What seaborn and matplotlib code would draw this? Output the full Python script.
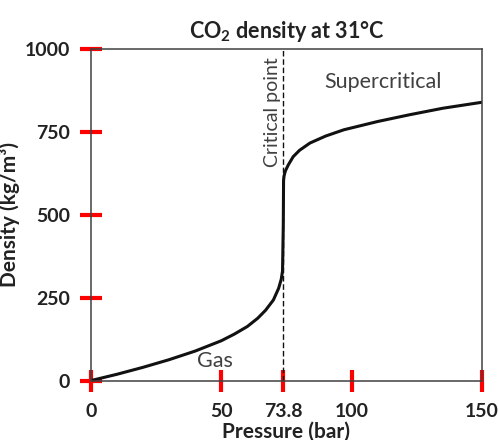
import numpy as np
import pandas as pd
import seaborn as sns
import matplotlib
matplotlib.use("Agg")
import matplotlib.pyplot as plt

# CO2 density along the 31 C isotherm
pressure = [0, 10, 20, 30, 40, 50, 55, 60, 64, 67, 70, 72, 73, 73.5, 73.8,
            73.8, 73.9, 74.1, 74.6, 75.7, 77.6, 80, 84, 90, 97,
            110, 122, 135, 150]
density = [0, 19, 40, 63, 89, 120, 140, 163, 188, 212, 243, 278, 305, 330, 360,
           585, 603, 617, 632, 650, 675, 694, 716, 737, 756,
           781, 801, 821, 839]
x_ticks = [0, 50, 73.8, 100, 150]
x_tick_labels = ["0", "50", "73.8", "100", "150"]
y_ticks = [0, 250, 500, 750, 1000]
critical_p = 73.8

df = pd.DataFrame({"Pressure": pressure, "Density": density})

grey = "#404040"
sns.set_style("ticks")
plt.rcParams["font.family"] = ["Lato", "DejaVu Sans"]
plt.rcParams["mathtext.fontset"] = "custom"
plt.rcParams["mathtext.rm"] = "Lato"
plt.rcParams["mathtext.bf"] = "Lato:bold"

fig = plt.figure(figsize=(4.99, 4.40), dpi=100)
ax = fig.add_axes([0.182, 0.135, 0.784, 0.754])

sns.lineplot(data=df, x="Pressure", y="Density", sort=False, color="#111111",
             linewidth=2.2, ax=ax)
ax.axvline(critical_p, color="#111111", linestyle=(0, (4, 2)), linewidth=1.0)

ax.set_xlim(0, 150)
ax.set_ylim(0, 1000)
ax.set_xticks(x_ticks)
ax.set_xticklabels(x_tick_labels)
ax.set_yticks(y_ticks)

for sp in ax.spines.values():
    sp.set_visible(True)
    sp.set_color(grey)
    sp.set_linewidth(1.1)
ax.tick_params(bottom=True, left=True, top=False, right=False,
               direction="inout", length=16, width=3, color="red",
               labelsize=14, labelcolor="#222222")
ax.tick_params(axis="x", pad=8)
ax.tick_params(axis="y", pad=7)
for lab in ax.get_xticklabels() + ax.get_yticklabels():
    lab.set_fontweight("bold")

ax.set_xlabel("Pressure (bar)", fontsize=15, fontweight="bold", color="#222222", labelpad=1)
ax.set_ylabel("Density (kg/m³)", fontsize=15, fontweight="bold", color="#222222", labelpad=3)
ax.set_title(r"CO$_\mathbf{2}$ density at 31°C", fontsize=15.5, fontweight="bold",
             color="#222222", pad=8)

ax.text(112, 901, "Supercritical", fontsize=15.5, color=grey, ha="center", va="center")
ax.text(47.5, 60, "Gas", fontsize=15.5, color=grey, ha="center", va="center")
ax.text(critical_p - 1.0, 975, "Critical point", fontsize=14, color=grey,
        rotation=90, ha="right", va="top")

fig.savefig("out.png", dpi=100)
